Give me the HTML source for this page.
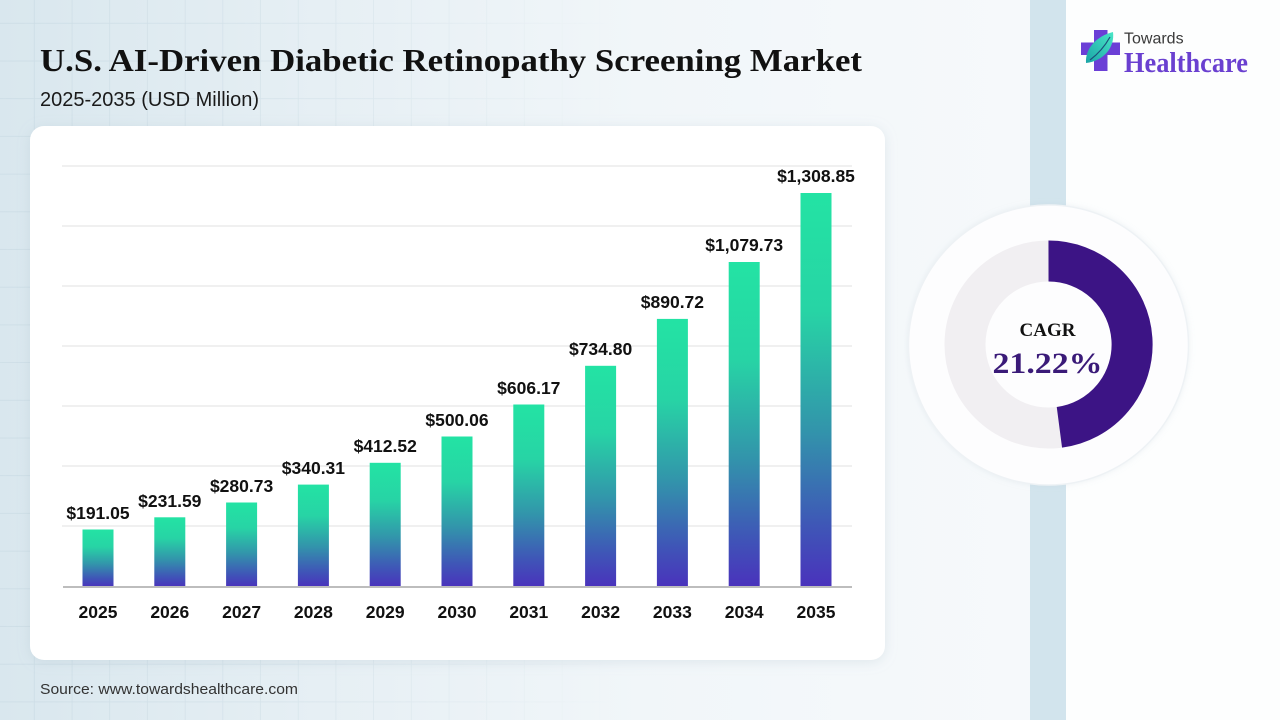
<!DOCTYPE html>
<html>
<head>
<meta charset="utf-8">
<style>
  html,body{margin:0;padding:0;width:1280px;height:720px;overflow:hidden;background:#f5f9fb;}
  svg{display:block;}
  .sans{font-family:"Liberation Sans",sans-serif;}
  .serif{font-family:"Liberation Serif",serif;}
</style>
</head>
<body>
<svg width="1280" height="720" viewBox="0 0 1280 720" xmlns="http://www.w3.org/2000/svg">
  <defs>
    <linearGradient id="bg" x1="0" y1="0" x2="1" y2="0">
      <stop offset="0" stop-color="#d9e7ee"/>
      <stop offset="0.25" stop-color="#e6eff4"/>
      <stop offset="0.5" stop-color="#f1f6f9"/>
      <stop offset="0.8" stop-color="#f6f9fb"/>
      <stop offset="1" stop-color="#f8fafc"/>
    </linearGradient>
    <pattern id="grid" width="37.7" height="37.7" patternUnits="userSpaceOnUse" x="-3" y="-14">
      <path d="M37.7 0 V37.7 M0 37.7 H37.7" fill="none" stroke="#c9dae3" stroke-width="1.4"/>
    </pattern>
    <linearGradient id="fadeG" x1="0" y1="0" x2="1" y2="0">
      <stop offset="0" stop-color="#fff" stop-opacity="0.9"/>
      <stop offset="0.35" stop-color="#fff" stop-opacity="0.45"/>
      <stop offset="0.6" stop-color="#fff" stop-opacity="0"/>
    </linearGradient>
    <mask id="fadeM">
      <rect x="0" y="0" width="1030" height="720" fill="url(#fadeG)"/>
    </mask>
    <linearGradient id="bar" x1="0" y1="0" x2="0" y2="1">
      <stop offset="0" stop-color="#23e3a4"/>
      <stop offset="0.3" stop-color="#27d4a5"/>
      <stop offset="0.6" stop-color="#3295ab"/>
      <stop offset="0.85" stop-color="#3f55b7"/>
      <stop offset="1" stop-color="#4a32bc"/>
    </linearGradient>
    <linearGradient id="leaf" x1="0" y1="1" x2="1" y2="0">
      <stop offset="0" stop-color="#1aa4a6"/>
      <stop offset="1" stop-color="#49e6c6"/>
    </linearGradient>
    <filter id="shadow" x="-10%" y="-10%" width="120%" height="120%">
      <feDropShadow dx="0" dy="2" stdDeviation="6" flood-color="#9fb3c0" flood-opacity="0.25"/>
    </filter>
    <filter id="shadow2" x="-10%" y="-10%" width="120%" height="120%">
      <feDropShadow dx="0" dy="0" stdDeviation="3" flood-color="#b8c8d2" flood-opacity="0.25"/>
    </filter>
  </defs>

  <!-- background -->
  <rect x="0" y="0" width="1280" height="720" fill="url(#bg)"/>
  <rect x="0" y="0" width="1030" height="720" fill="url(#grid)" mask="url(#fadeM)"/>
  <rect x="1030" y="0" width="36" height="720" fill="#d2e4ed"/>
  <rect x="1066" y="0" width="214" height="720" fill="#fdfefe"/>

  <!-- title -->
  <text x="40" y="71" class="serif" font-size="32" font-weight="bold" fill="#111" textLength="822" lengthAdjust="spacingAndGlyphs">U.S. AI-Driven Diabetic Retinopathy Screening Market</text>
  <text x="40" y="106" class="sans" font-size="20" fill="#1a1a1a">2025-2035 (USD Million)</text>

  <!-- card -->
  <rect x="30" y="126" width="855" height="534" rx="14" ry="14" fill="#ffffff" filter="url(#shadow)"/>

  <!-- gridlines -->
  <g stroke="#ececec" stroke-width="1.5">
    <line x1="62" y1="166" x2="852" y2="166"/>
    <line x1="62" y1="226" x2="852" y2="226"/>
    <line x1="62" y1="286" x2="852" y2="286"/>
    <line x1="62" y1="346" x2="852" y2="346"/>
    <line x1="62" y1="406" x2="852" y2="406"/>
    <line x1="62" y1="466" x2="852" y2="466"/>
    <line x1="62" y1="526" x2="852" y2="526"/>
  </g>

  <!-- bars -->
  <g fill="url(#bar)">
    <rect x="82.5" y="529.5" width="31" height="57.5"/>
    <rect x="154.3" y="517.3" width="31" height="69.7"/>
    <rect x="226.1" y="502.5" width="31" height="84.5"/>
    <rect x="297.9" y="484.6" width="31" height="102.4"/>
    <rect x="369.7" y="462.8" width="31" height="124.2"/>
    <rect x="441.5" y="436.5" width="31" height="150.5"/>
    <rect x="513.3" y="404.5" width="31" height="182.5"/>
    <rect x="585.1" y="365.8" width="31" height="221.2"/>
    <rect x="656.9" y="318.9" width="31" height="268.1"/>
    <rect x="728.7" y="262.0" width="31" height="325.0"/>
    <rect x="800.5" y="193.0" width="31" height="394.0"/>
  </g>

  <!-- axis -->
  <line x1="63" y1="587" x2="852" y2="587" stroke="#bdbdbd" stroke-width="2"/>

  <!-- value labels -->
  <g class="sans" font-size="17.5" font-weight="bold" fill="#111" text-anchor="middle">
    <text x="98" y="519">$191.05</text>
    <text x="169.8" y="507">$231.59</text>
    <text x="241.6" y="492">$280.73</text>
    <text x="313.4" y="474">$340.31</text>
    <text x="385.2" y="452">$412.52</text>
    <text x="457" y="426">$500.06</text>
    <text x="528.8" y="394">$606.17</text>
    <text x="600.6" y="355">$734.80</text>
    <text x="672.4" y="308">$890.72</text>
    <text x="744.2" y="251">$1,079.73</text>
    <text x="816" y="182">$1,308.85</text>
  </g>

  <!-- year labels -->
  <g class="sans" font-size="17.5" font-weight="bold" fill="#111" text-anchor="middle">
    <text x="98" y="618">2025</text>
    <text x="169.8" y="618">2026</text>
    <text x="241.6" y="618">2027</text>
    <text x="313.4" y="618">2028</text>
    <text x="385.2" y="618">2029</text>
    <text x="457" y="618">2030</text>
    <text x="528.8" y="618">2031</text>
    <text x="600.6" y="618">2032</text>
    <text x="672.4" y="618">2033</text>
    <text x="744.2" y="618">2034</text>
    <text x="816" y="618">2035</text>
  </g>

  <!-- source -->
  <text x="40" y="694" class="sans" font-size="15" fill="#333" textLength="258" lengthAdjust="spacingAndGlyphs">Source: www.towardshealthcare.com</text>

  <!-- donut -->
  <circle cx="1048.5" cy="345" r="140" fill="#fdfdfe" stroke="#eef2f5" stroke-width="1.5" filter="url(#shadow2)"/>
  <circle cx="1048.5" cy="344.5" r="83.5" fill="none" stroke="#f1eff2" stroke-width="41"/>
  <path d="M1048.5 261 A83.5 83.5 0 0 1 1059.4 427.3" fill="none" stroke="#3c1485" stroke-width="41"/>
  <text x="1047.5" y="336" class="serif" font-size="19" font-weight="bold" fill="#111" text-anchor="middle">CAGR</text>
  <text x="1047.5" y="373" class="serif" font-size="30" font-weight="bold" fill="#3a1a78" text-anchor="middle" textLength="110" lengthAdjust="spacingAndGlyphs">21.22%</text>

  <!-- logo -->
  <g>
    <rect x="1094" y="30" width="13.5" height="41" fill="#6b3fd6"/>
    <rect x="1081" y="42.5" width="39" height="12.5" fill="#6b3fd6"/>
    <path d="M1086 63 C1085 48 1097 36 1113 32 C1115 47 1104 61 1086 63 Z" fill="url(#leaf)"/>
    <path d="M1090 60 C1098 54 1105 46 1110 37" fill="none" stroke="#1c4f7a" stroke-width="1.2"/>
    <text x="1124" y="43.5" class="sans" font-size="16" fill="#3a3a3a">Towards</text>
    <text x="1124" y="72" class="serif" font-size="28" font-weight="bold" fill="#6a40d0" textLength="124" lengthAdjust="spacingAndGlyphs">Healthcare</text>
  </g>
</svg>
</body>
</html>
